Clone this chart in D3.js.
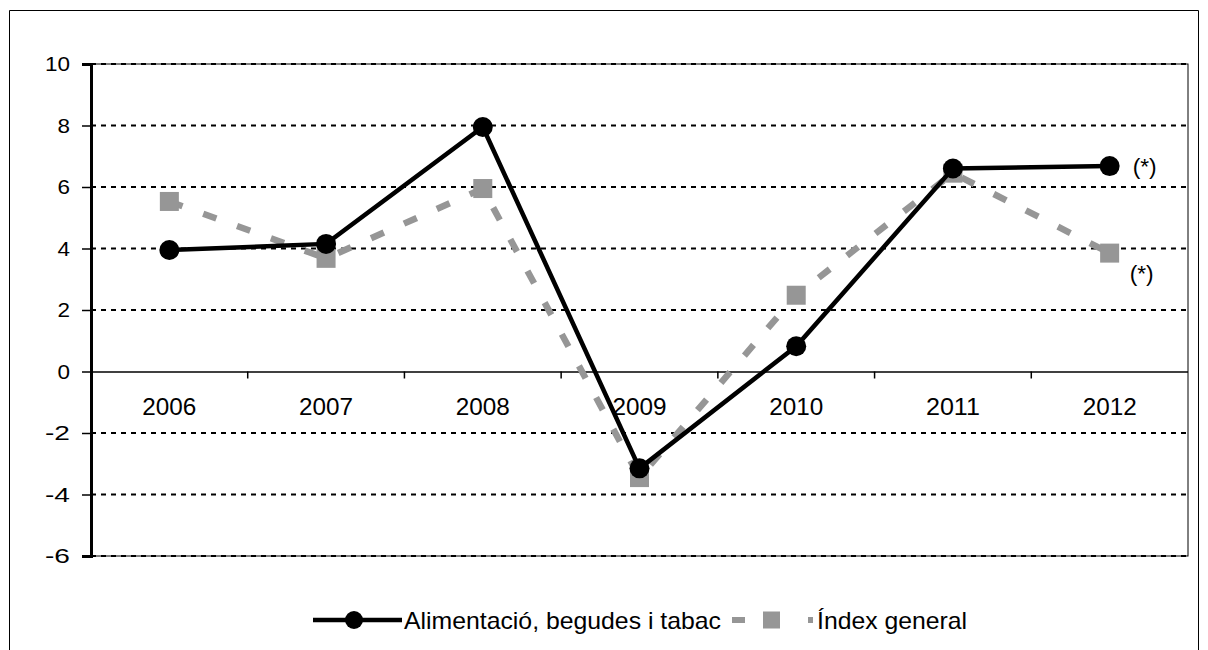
<!DOCTYPE html>
<html><head><meta charset="utf-8">
<script src="https://cdn.jsdelivr.net/npm/d3@7"></script>
<style>body{margin:0;background:#fff}svg{display:block}text{font-family:"Liberation Sans",Arial,sans-serif}</style>
</head><body>
<svg id="c" width="1208" height="650"></svg>
<script>
const years = ["2006","2007","2008","2009","2010","2011","2012"];
const alimentacio = [3.95, 4.15, 7.95, -3.15, 0.82, 6.6, 6.68];
const indexGeneral = [5.53, 3.68, 5.95, -3.45, 2.48, 6.45, 3.85];
const yTicks = [-6, -4, -2, 0, 2, 4, 6, 8, 10];
const seriesNames = ["Alimentació, begudes i tabac", "Índex general"];
const notes = ["(*)", "(*)"];

const svg = d3.select("#c");
const L = 91, R = 1188, T = 64, B = 556;
const x = d3.scaleBand().domain(years).range([L, R]).padding(0);
const y = d3.scaleLinear().domain([-6, 10]).range([B, T]);
const grey = "#969696";
const FF = "Liberation Sans, Arial, sans-serif";

// outer frame
svg.append("path").attr("d", `M9.5,650 V10.5 H1198.5 V650`).attr("fill","none").attr("stroke","#000").attr("stroke-width",1);

// plot border
svg.append("rect").attr("x", L).attr("y", T).attr("width", R - L).attr("height", B - T)
  .attr("fill", "none").attr("stroke", "#000").attr("stroke-width", 1);

// gridlines
svg.append("g").selectAll("line").data(yTicks.filter(d => d !== 0)).join("line")
  .attr("x1", L).attr("x2", R).attr("y1", d => y(d)).attr("y2", d => y(d))
  .attr("stroke", "#000").attr("stroke-width", 2).attr("stroke-dasharray", "5,5");

// y axis
const yAxis = svg.append("g").attr("transform", `translate(${L},0)`)
  .call(d3.axisLeft(y).tickValues(yTicks).tickSize(9).tickPadding(12).tickFormat(d => String(d)));
yAxis.select(".domain").attr("stroke-width", 3);
yAxis.selectAll("line").attr("stroke-width", 1.5);
yAxis.selectAll("text").attr("font-size", 21).attr("fill", "#000").attr("font-family", FF)
  .attr("textLength", d => String(d).length * 12.5).attr("lengthAdjust", "spacingAndGlyphs");

// x axis at zero
const xAxis = svg.append("g").attr("transform", `translate(0,${y(0)})`)
  .call(d3.axisBottom(x).tickSize(0).tickPadding(26));
xAxis.select(".domain").attr("stroke-width", 1.5).attr("d", `M${L},0.5H${R}`);
xAxis.selectAll("text").attr("font-size", 24).attr("fill", "#000").attr("font-family", FF)
  .attr("textLength", 54).attr("lengthAdjust", "spacingAndGlyphs");
svg.append("g").selectAll("line").data(years.slice(1)).join("line")
  .attr("x1", d => x(d)).attr("x2", d => x(d)).attr("y1", y(0)).attr("y2", y(0) + 7)
  .attr("stroke", "#000").attr("stroke-width", 1.5);

const cx = d => x(d) + x.bandwidth() / 2;

// grey dashed series
const lineG = d3.line().x((d, i) => cx(years[i])).y(d => y(d));
svg.append("path").datum(indexGeneral).attr("d", lineG)
  .attr("fill", "none").attr("stroke", grey).attr("stroke-width", 6.5).attr("stroke-dasharray", "14,22");
svg.append("g").selectAll("rect").data(indexGeneral).join("rect")
  .attr("x", (d, i) => cx(years[i]) - 9.5).attr("y", d => y(d) - 9.5)
  .attr("width", 19).attr("height", 19).attr("fill", grey);

// black series
svg.append("path").datum(alimentacio).attr("d", lineG)
  .attr("fill", "none").attr("stroke", "#000").attr("stroke-width", 4.5);
svg.append("g").selectAll("circle").data(alimentacio).join("circle")
  .attr("cx", (d, i) => cx(years[i])).attr("cy", d => y(d)).attr("r", 10).attr("fill", "#000");

// notes
svg.append("text").attr("x", cx("2012") + 23).attr("y", y(alimentacio[6]) + 8).attr("font-size", 22)
  .attr("textLength", 24).attr("lengthAdjust", "spacingAndGlyphs").text(notes[0]);
svg.append("text").attr("x", cx("2012") + 20).attr("y", y(indexGeneral[6]) + 28).attr("font-size", 22)
  .attr("textLength", 24).attr("lengthAdjust", "spacingAndGlyphs").text(notes[1]);

// legend
const ly = 620;
const lg = svg.append("g").attr("font-family", FF);
lg.append("line").attr("x1", 313).attr("x2", 402).attr("y1", ly).attr("y2", ly).attr("stroke", "#000").attr("stroke-width", 4.5);
lg.append("circle").attr("cx", 354).attr("cy", ly).attr("r", 9).attr("fill", "#000");
lg.append("text").attr("x", 404).attr("y", ly + 9).attr("font-size", 24)
  .attr("textLength", 317).attr("lengthAdjust", "spacingAndGlyphs").text(seriesNames[0]);
lg.append("line").attr("x1", 732).attr("x2", 813).attr("y1", ly).attr("y2", ly).attr("stroke", grey).attr("stroke-width", 6).attr("stroke-dasharray", "13,63");
lg.append("rect").attr("x", 763).attr("y", ly - 8.5).attr("width", 17).attr("height", 17).attr("fill", grey);
lg.append("text").attr("x", 817).attr("y", ly + 9).attr("font-size", 24)
  .attr("textLength", 150).attr("lengthAdjust", "spacingAndGlyphs").text(seriesNames[1]);
</script>
</body></html>
